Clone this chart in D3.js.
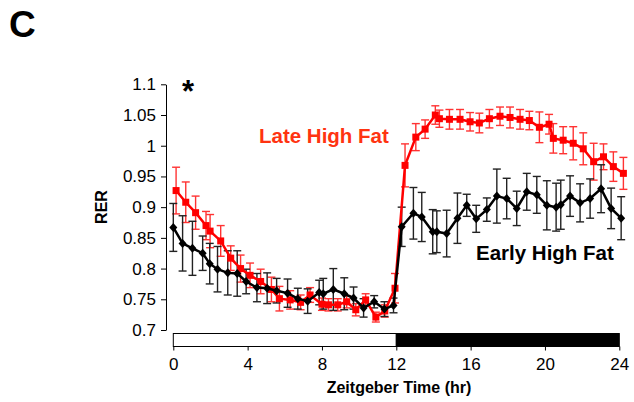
<!DOCTYPE html>
<html>
<head>
<meta charset="utf-8">
<script src="https://cdn.jsdelivr.net/npm/d3@7"></script>
<style>
  body { margin: 0; background: #fff; }
  svg { font-family: "Liberation Sans", Arial, sans-serif; }
</style>
</head>
<body>
<div id="chart"></div>
<script>
// Early High Fat (black diamonds)
var earlyHours = [0, 0.5, 1.03, 1.58, 1.96, 2.38, 2.93, 3.44, 3.92, 4.5, 5.05, 5.56, 6.15, 6.7, 7.23, 7.85, 8.07, 8.61, 9.2, 9.7, 10.24, 10.81, 11.36, 11.85,
    12.29, 12.92, 13.37, 13.96, 14.18, 14.71, 15.29, 15.79, 16.3, 16.87, 17.41, 17.94, 18.48, 19.02, 19.56, 20.1, 20.6, 20.85, 21.35, 21.89, 22.43, 23.02, 23.56, 24.1];
var earlyRER = [0.867, 0.841, 0.833, 0.825, 0.808, 0.799, 0.793, 0.792, 0.779, 0.769, 0.768, 0.764, 0.760, 0.751, 0.747, 0.761, 0.759, 0.766, 0.759, 0.752, 0.736, 0.746, 0.734, 0.740,
    0.868, 0.890, 0.884, 0.860, 0.860, 0.857, 0.882, 0.903, 0.881, 0.896, 0.918, 0.914, 0.898, 0.925, 0.920, 0.903, 0.900, 0.904, 0.918, 0.907, 0.914, 0.930, 0.898, 0.882];
var earlyErr = [0.039, 0.045, 0.044, 0.028, 0.033, 0.037, 0.036, 0.037, 0.02, 0.023, 0.025, 0.02, 0.023, 0.017, 0.02, 0.02, 0.025, 0.034, 0.026, 0.018, 0.015, 0.01, 0.012, 0.012,
    0.032, 0.042, 0.04, 0.036, 0.034, 0.038, 0.041, 0.018, 0.022, 0.019, 0.044, 0.033, 0.028, 0.03, 0.03, 0.04, 0.039, 0.04, 0.033, 0.031, 0.032, 0.039, 0.033, 0.035];

// Late High Fat (red squares)
var lateHours = [0.15, 0.67, 1.2, 1.76, 1.98, 2.55, 3.09, 3.62, 4.13, 4.7, 5.28, 5.71, 6.29, 6.85, 7.36, 8.0, 8.35, 8.85, 9.33, 9.82, 10.35, 10.9, 11.38, 11.93,
    12.47, 13.05, 13.55, 14.1, 14.32, 14.86, 15.43, 15.97, 16.47, 17.01, 17.58, 18.12, 18.66, 19.16, 19.7, 20.22, 20.45, 20.98, 21.52, 22.06, 22.62, 23.15, 23.68, 24.22];
var lateRER = [0.927, 0.908, 0.891, 0.870, 0.861, 0.845, 0.817, 0.800, 0.789, 0.779, 0.766, 0.751, 0.749, 0.745, 0.757, 0.742, 0.741, 0.741, 0.746, 0.733, 0.749, 0.721, 0.731, 0.768,
    0.968, 1.014, 1.027, 1.050, 1.044, 1.043, 1.043, 1.039, 1.037, 1.044, 1.048, 1.046, 1.043, 1.041, 1.030, 1.035, 1.012, 1.009, 1.004, 0.995, 0.974, 0.982, 0.966, 0.955];
var lateErr = [0.038, 0.033, 0.027, 0.023, 0.027, 0.025, 0.02, 0.022, 0.02, 0.02, 0.02, 0.02, 0.015, 0.012, 0.012, 0.01, 0.01, 0.01, 0.01, 0.01, 0.01, 0.008, 0.01, 0.024,
    0.035, 0.022, 0.015, 0.015, 0.014, 0.016, 0.016, 0.015, 0.016, 0.015, 0.015, 0.017, 0.016, 0.015, 0.025, 0.016, 0.024, 0.022, 0.027, 0.026, 0.03, 0.021, 0.024, 0.026];

var yTicks = [0.7, 0.75, 0.8, 0.85, 0.9, 0.95, 1, 1.05, 1.1];
var xTicks = [0, 4, 8, 12, 16, 20, 24];
var lightDark = [{ from: 0, to: 12, fill: "#fff" }, { from: 12, to: 24, fill: "#000" }];

var svg = d3.select("#chart").append("svg")
    .attr("width", 634)
    .attr("height", 402);

var x = d3.scaleLinear().domain([0, 24]).range([173.3, 619.3]);
var y = d3.scaleLinear().domain([0.7, 1.1]).range([330, 84.3]);

function zip(hours, vals, errs) {
    return hours.map(function (h, i) { return { h: h, v: vals[i], e: errs[i] }; });
}
var early = zip(earlyHours, earlyRER, earlyErr);
var late = zip(lateHours, lateRER, lateErr);

// panel letter
svg.append("text").attr("x", 9).attr("y", 37)
    .attr("font-size", 37).attr("font-weight", "bold").text("C");

// y axis
var yAxis = svg.append("g")
    .attr("transform", "translate(166,0)")
    .call(d3.axisLeft(y).tickValues(yTicks).tickSize(5).tickSizeOuter(0).tickPadding(5)
        .tickFormat(function (d) { return String(d); }));
yAxis.selectAll("text").attr("font-size", 17).attr("fill", "#000")
    .attr("font-family", "Liberation Sans, Arial, sans-serif");
yAxis.selectAll("line, path").attr("stroke", "#000");

svg.append("text")
    .attr("transform", "translate(107,207) rotate(-90)")
    .attr("text-anchor", "middle")
    .attr("font-size", 16).attr("font-weight", "bold").text("RER");

// light/dark bar
svg.append("g").selectAll("rect")
    .data(lightDark)
    .enter().append("rect")
    .attr("x", function (d) { return x(d.from); })
    .attr("y", 333.5)
    .attr("width", function (d) { return x(d.to) - x(d.from); })
    .attr("height", 13)
    .attr("fill", function (d) { return d.fill; })
    .attr("stroke", "#000").attr("stroke-width", 1);

// x axis
var xAxis = svg.append("g")
    .attr("transform", "translate(0,346.5)")
    .call(d3.axisBottom(x).tickValues(xTicks).tickSize(4).tickSizeOuter(0).tickPadding(7));
xAxis.select(".domain").remove();
xAxis.selectAll("text").attr("font-size", 17).attr("fill", "#000")
    .attr("font-family", "Liberation Sans, Arial, sans-serif");
xAxis.selectAll("line").attr("stroke", "#000");

svg.append("text").attr("x", 399).attr("y", 393)
    .attr("text-anchor", "middle")
    .attr("font-size", 16).attr("font-weight", "bold").text("Zeitgeber Time (hr)");

// error bars
function drawErrors(data, color, cls) {
    var g = svg.append("g").attr("class", cls)
        .attr("stroke", color).attr("stroke-width", 1.4).attr("fill", "none");
    var bars = g.selectAll("g").data(data).enter().append("g");
    bars.append("line")
        .attr("x1", function (d) { return x(d.h); }).attr("x2", function (d) { return x(d.h); })
        .attr("y1", function (d) { return y(d.v - d.e); }).attr("y2", function (d) { return y(d.v + d.e); });
    bars.append("line")
        .attr("x1", function (d) { return x(d.h) - 4; }).attr("x2", function (d) { return x(d.h) + 4; })
        .attr("y1", function (d) { return y(d.v + d.e); }).attr("y2", function (d) { return y(d.v + d.e); });
    bars.append("line")
        .attr("x1", function (d) { return x(d.h) - 4; }).attr("x2", function (d) { return x(d.h) + 4; })
        .attr("y1", function (d) { return y(d.v - d.e); }).attr("y2", function (d) { return y(d.v - d.e); });
}
drawErrors(late, "#f33", "err-late");
drawErrors(early, "#222", "err-early");

var line = d3.line()
    .x(function (d) { return x(d.h); })
    .y(function (d) { return y(d.v); });

// late high fat
svg.append("path").datum(late)
    .attr("d", line).attr("fill", "none")
    .attr("stroke", "#f00").attr("stroke-width", 2.5);
svg.append("g").selectAll("rect")
    .data(late)
    .enter().append("rect")
    .attr("x", function (d) { return x(d.h) - 3.5; })
    .attr("y", function (d) { return y(d.v) - 3.5; })
    .attr("width", 7).attr("height", 7)
    .attr("fill", "#f00");

// early high fat
svg.append("path").datum(early)
    .attr("d", line).attr("fill", "none")
    .attr("stroke", "#000").attr("stroke-width", 2.5);
svg.append("g").selectAll("path")
    .data(early)
    .enter().append("path")
    .attr("d", "M0,-4.5L4,0L0,4.5L-4,0Z")
    .attr("transform", function (d) { return "translate(" + x(d.h) + "," + y(d.v) + ")"; })
    .attr("fill", "#000");

// labels
svg.append("text").attr("x", 259).attr("y", 143)
    .attr("font-size", 20.5).attr("font-weight", "bold")
    .attr("fill", "#ff3311").text("Late High Fat");
svg.append("text").attr("x", 476).attr("y", 260)
    .attr("font-size", 20.5).attr("font-weight", "bold")
    .attr("fill", "#000").text("Early High Fat");
svg.append("text").attr("x", 188).attr("y", 102)
    .attr("text-anchor", "middle")
    .attr("font-size", 31).attr("font-weight", "bold").text("*");
</script>
</body>
</html>
